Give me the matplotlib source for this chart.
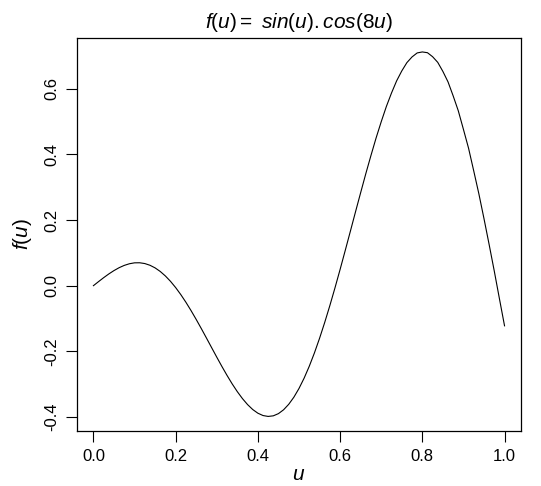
import matplotlib
matplotlib.use("Agg")
import matplotlib.pyplot as plt

# values, u step 0.0125
u = [0.0, 0.0125, 0.025, 0.0375, 0.05, 0.0625, 0.075, 0.0875, 0.1, 0.1125,
     0.125, 0.1375, 0.15, 0.1625, 0.175, 0.1875, 0.2, 0.2125, 0.225, 0.2375,
     0.25, 0.2625, 0.275, 0.2875, 0.3, 0.3125, 0.325, 0.3375, 0.35, 0.3625,
     0.375, 0.3875, 0.4, 0.4125, 0.425, 0.4375, 0.45, 0.4625, 0.475, 0.4875,
     0.5, 0.5125, 0.525, 0.5375, 0.55, 0.5625, 0.575, 0.5875, 0.6, 0.6125,
     0.625, 0.6375, 0.65, 0.6625, 0.675, 0.6875, 0.7, 0.7125, 0.725, 0.7375,
     0.75, 0.7625, 0.775, 0.7875, 0.8, 0.8125, 0.825, 0.8375, 0.85, 0.8625,
     0.875, 0.8875, 0.9, 0.9125, 0.925, 0.9375, 0.95, 0.9625, 0.975, 0.9875, 1.0]
fu = [0.0, 0.0124, 0.0245, 0.0358, 0.0460, 0.0548, 0.0618, 0.0668, 0.0696, 0.0698,
      0.0674, 0.0622, 0.0542, 0.0433, 0.0296, 0.0132, -0.0058, -0.0272, -0.0507, -0.0761,
      -0.1030, -0.1310, -0.1598, -0.1889, -0.2179, -0.2463, -0.2736, -0.2994, -0.3231, -0.3443,
      -0.3626, -0.3776, -0.3888, -0.3959, -0.3986, -0.3968, -0.3901, -0.3784, -0.3617, -0.3401,
      -0.3134, -0.2819, -0.2457, -0.2052, -0.1606, -0.1124, -0.0610, -0.0069, 0.0494, 0.1073,
      0.1660, 0.2251, 0.2835, 0.3412, 0.3966, 0.4500, 0.4996, 0.5461, 0.5872, 0.6243,
      0.6545, 0.6800, 0.6973, 0.7095, 0.7125, 0.7102, 0.6980, 0.6808, 0.6532, 0.6213,
      0.5787, 0.5331, 0.4765, 0.4189, 0.3502, 0.2803, 0.2044, 0.1256, 0.0447, -0.0393, -0.1224]

xticks = [0.0, 0.2, 0.4, 0.6, 0.8, 1.0]
yticks = [-0.4, -0.2, 0.0, 0.2, 0.4, 0.6]

plt.rcParams['font.family'] = ['Liberation Sans', 'DejaVu Sans']
plt.rcParams['mathtext.fontset'] = 'custom'
plt.rcParams['mathtext.rm'] = 'Liberation Sans'
plt.rcParams['mathtext.it'] = 'Liberation Sans:italic'

fig = plt.figure(figsize=(5.41, 4.86), dpi=100)
ax = fig.add_axes([0.1423, 0.1132, 0.8207, 0.8086])

ax.plot(u, fu, color="black", lw=0.8)

ax.set_xlim(-0.04, 1.04)
ax.set_ylim(-0.443, 0.755)
ax.set_xticks(xticks)
ax.set_xticklabels(["%.1f" % t for t in xticks])
ax.set_yticks(yticks)
ax.set_yticklabels(["%.1f" % t for t in yticks], rotation=90, va="center")
ax.tick_params(direction="out", length=8, width=0.8, labelsize=12, pad=5)
for s in ax.spines.values():
    s.set_linewidth(0.9)

ax.set_title(r"$f\mathrm{(}u\mathrm{)} = \ sin\mathrm{(}u\mathrm{)}.cos\mathrm{(8}u\mathrm{)}$",
             fontsize=15, pad=7)
ax.set_xlabel(r"$u$", fontsize=15, labelpad=1)
ax.set_ylabel(r"$f\mathrm{(}u\mathrm{)}$", fontsize=15, labelpad=7)

fig.savefig("out.png", dpi=100)
